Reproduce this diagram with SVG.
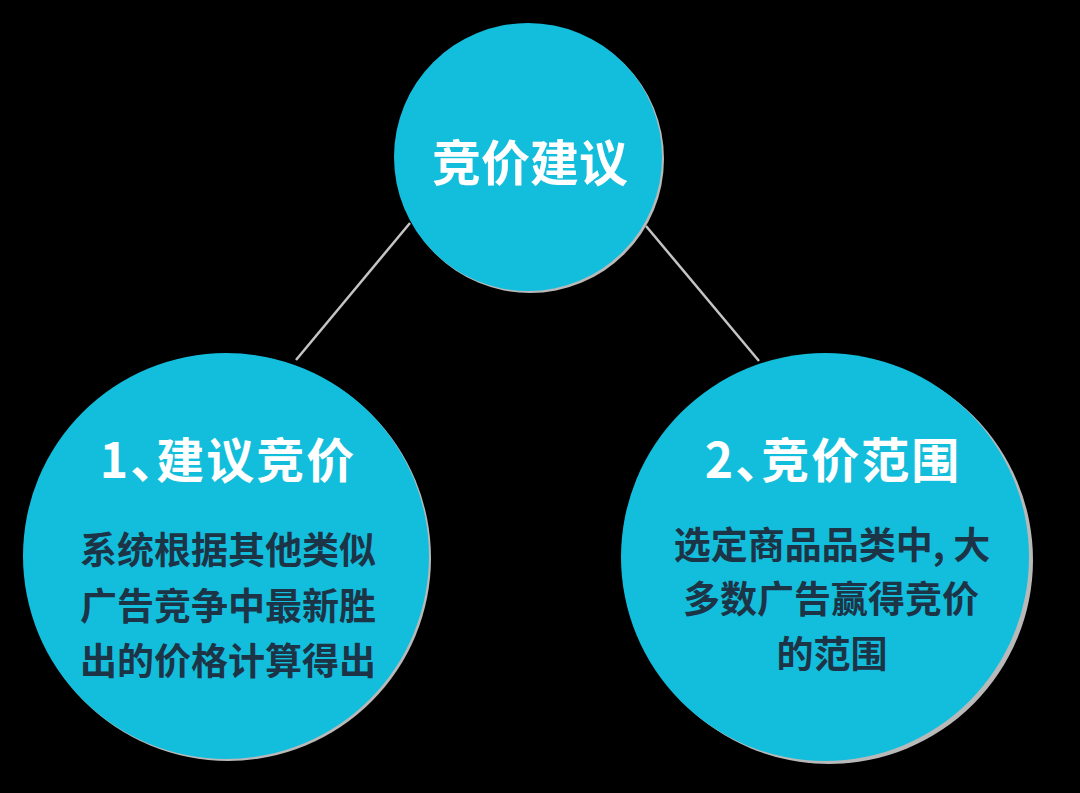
<svg xmlns="http://www.w3.org/2000/svg" width="1080" height="793" viewBox="0 0 1080 793">
<style>
.shadow{fill:#b9b9b9}
.disc{fill:#13bedc}
.title{font-family:"Noto Sans CJK SC","Noto Sans",sans-serif;font-weight:700;fill:#ffffff;text-anchor:middle;dominant-baseline:central}
.sub{font-feature-settings:"halt";letter-spacing:2px}
.body{font-family:"Noto Sans CJK SC","Noto Sans",sans-serif;font-weight:700;fill:#1d3447;text-anchor:middle;dominant-baseline:central;font-size:37px}
.conn{stroke:#c4c4c4;stroke-width:2.5;fill:none}
</style>
<rect x="0" y="0" width="1080" height="793" fill="#000000"/>
<g id="connectors">
<line class="conn" x1="410" y1="223" x2="296" y2="360"/>
<line class="conn" x1="646" y1="226" x2="759" y2="361"/>
</g>
<g id="node-top">
<circle class="shadow" cx="530" cy="159" r="134"/>
<circle class="disc" cx="528" cy="157" r="134"/>
<text class="title" x="530" y="159" font-size="49">竞价建议</text>
</g>
<g id="node-left">
<circle class="shadow" cx="228" cy="558" r="203"/>
<circle class="disc" cx="226" cy="556" r="203"/>
<text class="title sub" x="228" y="457" font-size="48">1、建议竞价</text>
<text class="body" x="228" y="548">系统根据其他类似</text>
<text class="body" x="228" y="604">广告竞争中最新胜</text>
<text class="body" x="228" y="659">出的价格计算得出</text>
</g>
<g id="node-right">
<circle class="shadow" cx="829" cy="560" r="204"/>
<circle class="disc" cx="825" cy="557" r="204"/>
<text class="title sub" x="833" y="457" font-size="48">2、竞价范围</text>
<text class="body" x="832" y="543">选定商品品类中, 大</text>
<text class="body" x="831" y="597">多数广告赢得竞价</text>
<text class="body" x="832" y="652">的范围</text>
</g>
</svg>
